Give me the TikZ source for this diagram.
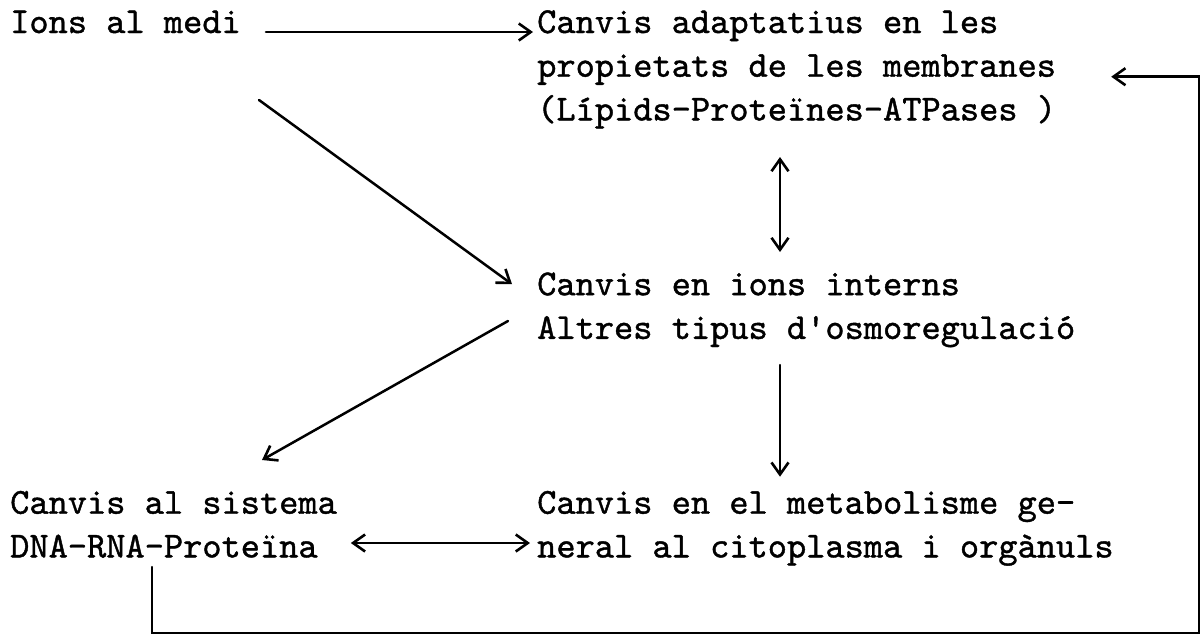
\documentclass[tikz,border=0pt]{standalone}
\usepackage{fontspec}
\newfontfamily\tw{lmmono10-regular.otf}[FakeBold=1.1]
\usetikzlibrary{arrows.meta}

\begin{document}
\begin{tikzpicture}[x=1pt,y=-1pt,
  lbl/.style={inner sep=0pt, anchor=base west,
    font=\tw\fontsize{36.6}{43.7}\selectfont},
  wire/.style={line width=2.5pt, line cap=round, line join=miter},
  tip/.tip={Straight Barb[length=12pt,width=17pt,line width=2.6pt]},
  arr/.style={wire, -tip},
  darr/.style={wire, tip-tip}]
\useasboundingbox (0,0) rectangle (1203,638);

% typed text, one node per line
\node[lbl] (ions) at (10,33)    {Ions al medi};
\node[lbl] (ad1)  at (537,33)    {Canvis adaptatius en les};
\node[lbl] (ad2)  at (537,76.7)  {propietats de les membranes};
\node[lbl] (ad3)  at (537,120.4) {(Lípids-Proteïnes-ATPases )};
\node[lbl] (in1)  at (537,295.2) {Canvis en ions interns};
\node[lbl] (in2)  at (537,338.9) {Altres tipus d'osmoregulació};
\node[lbl] (sis1) at (10,513.7)  {Canvis al sistema};
\node[lbl] (sis2) at (10,557.4)  {DNA-RNA-Proteïna};
\node[lbl] (met1) at (537,513.7) {Canvis en el metabolisme ge-};
\node[lbl] (met2) at (537,557.4) {neral al citoplasma i orgànuls};

% corners of the feedback loop
\coordinate (loopBL) at (152,633);
\coordinate (loopBR) at (1199,633);
\coordinate (loopTR) at (1199,76.7);

% arrows
\draw[arr] ([xshift=25pt,yshift=1pt]ions.base east) -- ([xshift=-4pt,yshift=1pt]ad1.base west);
\draw[arr] ([xshift=18pt,yshift=-67pt]ions.base east) -- ([xshift=-25pt,yshift=11pt]in1.base west);
\draw[darr] ([xshift=243pt,yshift=-36.6pt]ad3.base west) -- ([xshift=243pt,yshift=43.2pt]in1.base west);
\draw[arr] ([xshift=-29pt,yshift=17.9pt]in2.base west) -- ([xshift=252pt,yshift=53.7pt]sis1.base west);
\draw[arr] ([xshift=243pt,yshift=-26.1pt]in2.base west) -- ([xshift=243pt,yshift=37pt]met1.base west);
\draw[darr] ([xshift=33pt,yshift=14.4pt]sis2.base east) -- ([xshift=-7pt,yshift=14.4pt]met2.base west);
\draw[arr] ([xshift=142pt,yshift=-9.6pt]sis2.base west) -- (loopBL) -- (loopBR) -- (loopTR)
  -- ([xshift=55pt]ad2.base east);
\end{tikzpicture}
\end{document}
